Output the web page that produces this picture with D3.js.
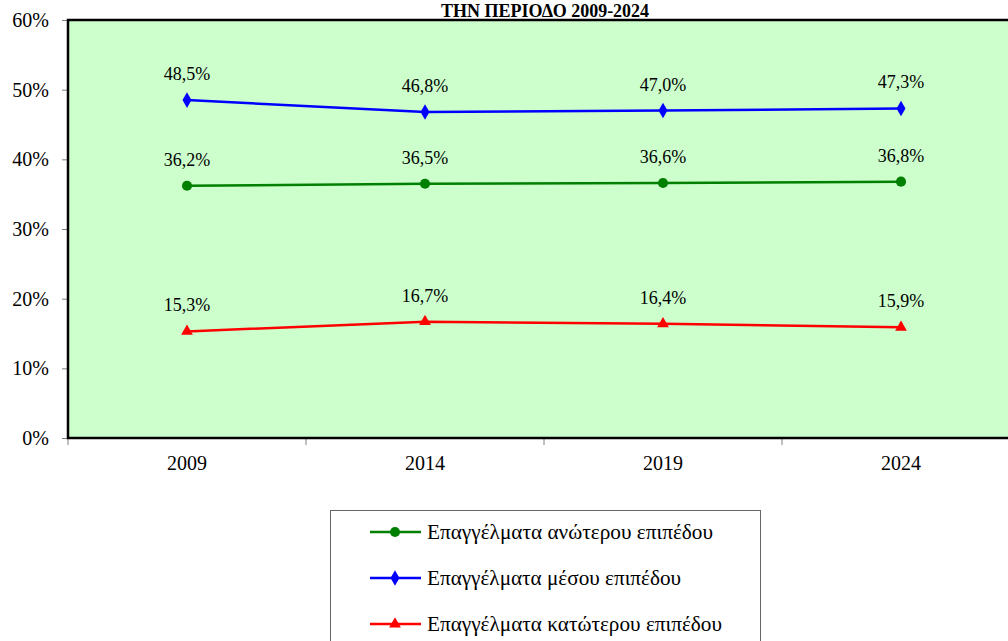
<!DOCTYPE html>
<html><head><meta charset="utf-8">
<script src="https://cdn.jsdelivr.net/npm/d3@7"></script>
<style>body{margin:0;background:#fff}svg{display:block}</style>
</head><body><svg id="c" width="1008" height="641" font-family="Liberation Serif"></svg>
<script>
const years = ["2009","2014","2019","2024"];
const upper = [36.2, 36.5, 36.6, 36.8];
const middle = [48.5, 46.8, 47.0, 47.3];
const lower = [15.3, 16.7, 16.4, 15.9];
const seriesNames = ["Επαγγέλματα ανώτερου επιπέδου","Επαγγέλματα μέσου επιπέδου","Επαγγέλματα κατώτερου επιπέδου"];
const yTicks = [0,10,20,30,40,50,60];
const titleText = "ΤΗΝ ΠΕΡΙΟΔΟ 2009-2024";
const FONT = "Liberation Serif";

const series = [
  {name: seriesNames[0], values: upper, color: "#008000", symbol: d3.symbolCircle, size: 80, legendW: 286},
  {name: seriesNames[1], values: middle, color: "#0000FF", symbol: d3.symbolDiamond, size: 70, legendW: 254},
  {name: seriesNames[2], values: lower, color: "#FF0000", symbol: d3.symbolTriangle, size: 60, legendW: 295}
];

const svg = d3.select("#c");
const L = 68, T = 20, B = 438, R = 1020;
const x = d3.scaleBand().domain(years).range([L, R]);
const y = d3.scaleLinear().domain([0, 60]).range([B, T]);

svg.append("rect").attr("x", L).attr("y", T).attr("width", R - L).attr("height", B - T).attr("fill", "#CCFFCC");

svg.append("text").attr("x", 545).attr("y", 16.5).attr("text-anchor", "middle")
  .attr("font-family", FONT).attr("font-weight", "bold").attr("font-size", 18).text(titleText);

const yAxis = svg.append("g").attr("transform", `translate(${L},0)`)
  .call(d3.axisLeft(y).tickValues(yTicks).tickFormat(d => d + "%").tickSize(6).tickPadding(13));
yAxis.attr("font-family", FONT);
yAxis.select(".domain").remove();
yAxis.selectAll("line").attr("stroke", "#808080");
yAxis.selectAll("text").attr("font-size", 20).attr("font-family", FONT).attr("fill", "#000");

const xAxis = svg.append("g").attr("transform", `translate(0,${B})`)
  .call(d3.axisBottom(x).tickSize(0).tickPadding(18));
xAxis.attr("font-family", FONT);
xAxis.select(".domain").remove();
xAxis.selectAll("text").attr("font-size", 20).attr("font-family", FONT).attr("fill", "#000");
svg.append("g").selectAll("line").data(years.concat(["end"])).join("line")
  .attr("x1", (d, i) => L + i * x.bandwidth()).attr("x2", (d, i) => L + i * x.bandwidth())
  .attr("y1", B).attr("y2", B + 7).attr("stroke", "#808080");

svg.append("path").attr("d", `M${R},${T}H${L}V${B}H${R}`).attr("fill", "none").attr("stroke", "#000").attr("stroke-width", 2.5);

const cx = d => x(d) + x.bandwidth() / 2;
const line = d3.line().x((d, i) => cx(years[i])).y(d => y(d));

series.forEach(s => {
  svg.append("path").datum(s.values).attr("d", line).attr("fill", "none")
    .attr("stroke", s.color).attr("stroke-width", 2.5);
  svg.append("g").selectAll("path").data(s.values).join("path")
    .attr("transform", (d, i) => `translate(${cx(years[i])},${y(d)})`)
    .attr("d", d3.symbol().type(s.symbol).size(s.size)).attr("fill", s.color);
  svg.append("g").selectAll("text").data(s.values).join("text")
    .attr("x", (d, i) => cx(years[i])).attr("y", d => y(d) - 20)
    .attr("text-anchor", "middle").attr("font-family", FONT).attr("font-size", 18).attr("fill", "#000")
    .text(d => d.toFixed(1).replace(".", ",") + "%");
});

const lg = svg.append("g");
lg.append("rect").attr("x", 330.5).attr("y", 510.5).attr("width", 430).attr("height", 140)
  .attr("fill", "#fff").attr("stroke", "#666").attr("stroke-width", 1);
series.forEach((s, i) => {
  const yy = 532 + i * 46;
  lg.append("line").attr("x1", 370).attr("x2", 421).attr("y1", yy).attr("y2", yy)
    .attr("stroke", s.color).attr("stroke-width", 2.5);
  lg.append("path").attr("transform", `translate(395,${yy})`)
    .attr("d", d3.symbol().type(s.symbol).size(s.size)).attr("fill", s.color);
  lg.append("text").attr("x", 427).attr("y", yy + 7).attr("font-family", FONT).attr("font-size", 20)
    .attr("textLength", s.legendW).attr("lengthAdjust", "spacingAndGlyphs")
    .attr("fill", "#000").text(s.name);
});
</script></body></html>
